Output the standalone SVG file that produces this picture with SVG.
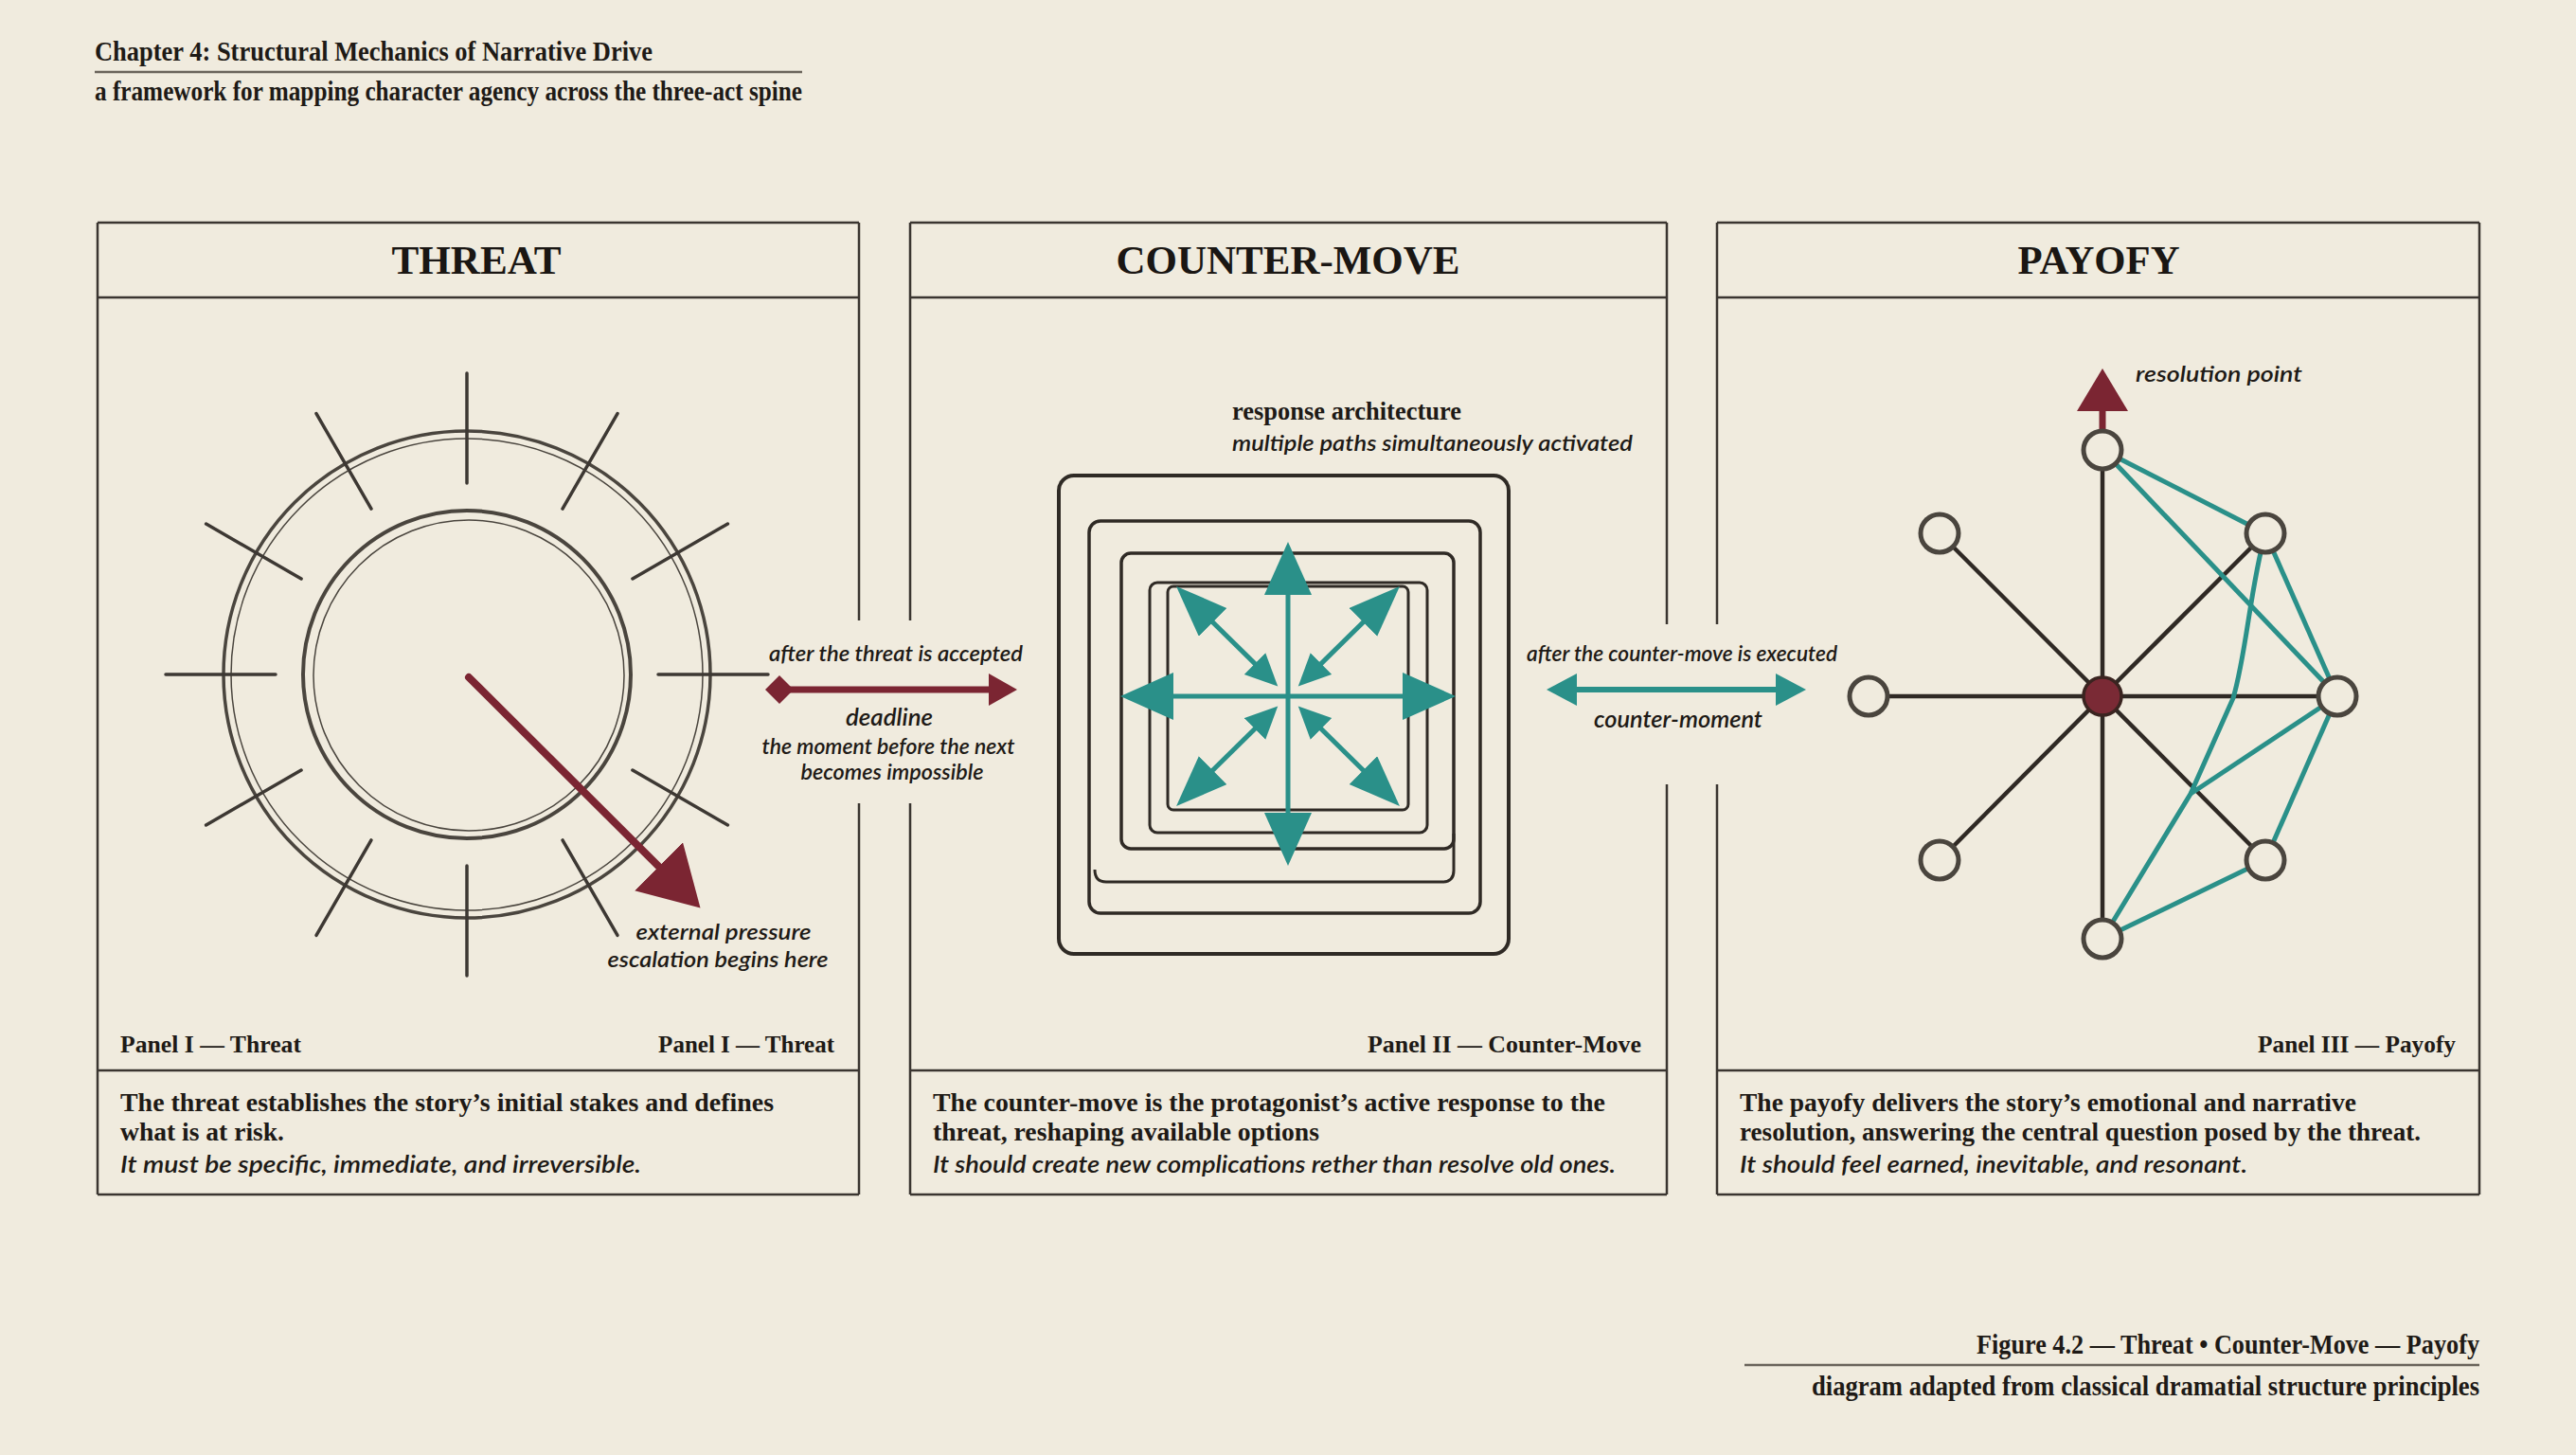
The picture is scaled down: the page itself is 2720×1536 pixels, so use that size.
<svg xmlns="http://www.w3.org/2000/svg" width="2720" height="1536" viewBox="0 0 2720 1536">
<defs>
<style>
.hdr{font-family:"Liberation Serif","DejaVu Serif",serif;font-size:30px;font-weight:bold;fill:#1e1a16}
.ptitle{font-family:"Liberation Serif","DejaVu Serif",serif;font-size:42px;font-weight:bold;fill:#1a1613;text-anchor:middle}
.plabel{font-family:"Liberation Serif","DejaVu Serif",serif;font-size:25px;font-weight:bold;fill:#1e1a16}
.body{font-family:"Liberation Serif","DejaVu Serif",serif;font-size:27px;font-weight:bold;fill:#1e1a16}
.bodyi{font-family:Lato,"Open Sans",sans-serif;font-size:25px;font-style:italic;font-weight:600;fill:#1e1a16}
.lbl{font-family:Lato,"Open Sans",sans-serif;font-size:22px;font-style:italic;font-weight:600;fill:#1e1a16}
.lblc{font-family:Lato,"Open Sans",sans-serif;font-size:22px;font-style:italic;font-weight:600;fill:#1e1a16;text-anchor:middle}
.lblb{font-family:Lato,"Open Sans",sans-serif;font-size:25px;font-style:italic;font-weight:600;fill:#1e1a16;text-anchor:middle}
.frame{fill:none;stroke:#3a3530;stroke-width:2.5}
.ring{fill:none;stroke:#4a453e}
.tick{stroke:#3d3833;stroke-width:3.5;stroke-linecap:round}
.box{fill:none;stroke:#2f2a25}
.teal{stroke:#2a9089;stroke-width:5;fill:none}
.spoke{stroke:#2f2924;stroke-width:4.5}
.node{fill:#f0ebde;stroke:#4a453e;stroke-width:5}
</style>
<marker id="tealBig" markerUnits="userSpaceOnUse" markerWidth="58" markerHeight="52" refX="46" refY="25" orient="auto-start-reverse">
<path d="M0,0 L56,25 L0,50 Z" fill="#2a9089"/>
</marker>
<marker id="tealDiag" markerUnits="userSpaceOnUse" markerWidth="56" markerHeight="44" refX="44" refY="21" orient="auto-start-reverse">
<path d="M0,0 L54,21 L0,42 Z" fill="#2a9089"/>
</marker>
<marker id="tealInner" markerUnits="userSpaceOnUse" markerWidth="36" markerHeight="34" refX="24" refY="16" orient="auto-start-reverse">
<path d="M0,0 L34,16 L0,32 Z" fill="#2a9089"/>
</marker>
<marker id="tealMid" markerUnits="userSpaceOnUse" markerWidth="34" markerHeight="36" refX="24" refY="17" orient="auto-start-reverse">
<path d="M0,0 L32,17 L0,34 Z" fill="#2a9089"/>
</marker>
<marker id="redHead" markerUnits="userSpaceOnUse" markerWidth="64" markerHeight="74" refX="50" refY="36" orient="auto">
<path d="M0,0 L62,36 L0,72 Z" fill="#7b2532"/>
</marker>
<marker id="redMid" markerUnits="userSpaceOnUse" markerWidth="32" markerHeight="36" refX="22" refY="17" orient="auto">
<path d="M0,0 L30,17 L0,34 Z" fill="#7b2532"/>
</marker>
</defs>

<rect x="0" y="0" width="2720" height="1536" fill="#f0ebde"/>

<g id="header">
<text class="hdr" x="100" y="64" textLength="589" lengthAdjust="spacingAndGlyphs">Chapter 4: Structural Mechanics of Narrative Drive</text>
<line x1="100" y1="76" x2="847" y2="76" stroke="#6a645b" stroke-width="2.5"/>
<text class="hdr" x="100" y="106" font-size="28" textLength="747" lengthAdjust="spacingAndGlyphs">a framework for mapping character agency across the three-act spine</text>
</g>

<g id="panel-threat">
<path class="frame" d="M103,235 H907 M103,314 H907 M103,1130 H907 M103,1261 H907 M103,235 V1261 M907,235 V655 M907,848 V1261"/>
<text class="ptitle" x="503" y="289" textLength="179" lengthAdjust="spacingAndGlyphs">THREAT</text>
<circle class="ring" cx="493" cy="712" r="257" stroke-width="3.5"/>
<circle class="ring" cx="493" cy="712" r="249" stroke-width="1.5"/>
<circle class="ring" cx="493" cy="712" r="173" stroke-width="4"/>
<circle class="ring" cx="495" cy="713" r="164" stroke-width="1.5"/>
<g class="tick">
<line x1="695" y1="712" x2="811" y2="712"/>
<line x1="695" y1="712" x2="811" y2="712" transform="rotate(30 493 712)"/>
<line x1="695" y1="712" x2="811" y2="712" transform="rotate(60 493 712)"/>
<line x1="695" y1="712" x2="811" y2="712" transform="rotate(90 493 712)"/>
<line x1="695" y1="712" x2="811" y2="712" transform="rotate(120 493 712)"/>
<line x1="695" y1="712" x2="811" y2="712" transform="rotate(150 493 712)"/>
<line x1="695" y1="712" x2="811" y2="712" transform="rotate(180 493 712)"/>
<line x1="695" y1="712" x2="811" y2="712" transform="rotate(210 493 712)"/>
<line x1="695" y1="712" x2="811" y2="712" transform="rotate(240 493 712)"/>
<line x1="695" y1="712" x2="811" y2="712" transform="rotate(270 493 712)"/>
<line x1="695" y1="712" x2="811" y2="712" transform="rotate(300 493 712)"/>
<line x1="695" y1="712" x2="811" y2="712" transform="rotate(330 493 712)"/>
</g>
<line x1="495" y1="715" x2="731" y2="950" stroke="#7b2532" stroke-width="8" stroke-linecap="round" marker-end="url(#redHead)"/>
<text class="lblc" x="764" y="992" textLength="185" lengthAdjust="spacingAndGlyphs">external pressure</text>
<text class="lblc" x="758" y="1021" textLength="233" lengthAdjust="spacingAndGlyphs">escalation begins here</text>
<text class="plabel" x="127" y="1111" textLength="191" lengthAdjust="spacingAndGlyphs">Panel I — Threat</text>
<text class="plabel" x="881" y="1111" text-anchor="end">Panel I — Threat</text>
<text class="body" x="127" y="1173" textLength="690" lengthAdjust="spacingAndGlyphs">The threat establishes the story’s initial stakes and defines</text>
<text class="body" x="127" y="1204" textLength="173" lengthAdjust="spacingAndGlyphs">what is at risk.</text>
<text class="bodyi" x="127" y="1238" textLength="550" lengthAdjust="spacingAndGlyphs">It must be specific, immediate, and irreversible.</text>
</g>

<g id="panel-counter-move">
<path class="frame" d="M961,235 H1760 M961,314 H1760 M961,1130 H1760 M961,1261 H1760 M961,235 V655 M961,848 V1261 M1760,235 V659 M1760,828 V1261"/>
<text class="ptitle" x="1360" y="289" textLength="363" lengthAdjust="spacingAndGlyphs">COUNTER-MOVE</text>
<text class="body" x="1301" y="443" font-size="26" textLength="242" lengthAdjust="spacingAndGlyphs">response architecture</text>
<text class="lbl" x="1301" y="476" font-size="23" textLength="423" lengthAdjust="spacingAndGlyphs">multiple paths simultaneously activated</text>
<rect class="box" x="1118" y="502" width="475" height="505" rx="16" stroke-width="4"/>
<rect class="box" x="1150" y="550" width="413" height="414" rx="12" stroke-width="3.5"/>
<path class="box" stroke-width="3" d="M1156,918 Q1156,931 1168,931 H1523 Q1535,931 1535,919 V880"/>
<rect class="box" x="1184" y="584" width="351" height="312" rx="10" stroke-width="3.5"/>
<rect class="box" x="1214" y="615" width="293" height="264" rx="8" stroke-width="3"/>
<rect class="box" x="1233" y="619" width="254" height="236" rx="6" stroke-width="3"/>
<g id="burst">
<line class="teal" x1="1360" y1="735" x2="1360" y2="582" marker-end="url(#tealBig)"/>
<line class="teal" x1="1360" y1="735" x2="1360" y2="904" marker-end="url(#tealBig)"/>
<line class="teal" x1="1360" y1="735" x2="1193" y2="735" marker-end="url(#tealBig)"/>
<line class="teal" x1="1360" y1="735" x2="1527" y2="735" marker-end="url(#tealBig)"/>
<line class="teal" x1="1342.1" y1="717.4" x2="1249.2" y2="626" marker-start="url(#tealInner)" marker-end="url(#tealDiag)"/>
<line class="teal" x1="1377.9" y1="717.4" x2="1470.8" y2="626" marker-start="url(#tealInner)" marker-end="url(#tealDiag)"/>
<line class="teal" x1="1342.1" y1="752.6" x2="1249.2" y2="844" marker-start="url(#tealInner)" marker-end="url(#tealDiag)"/>
<line class="teal" x1="1377.9" y1="752.6" x2="1470.8" y2="844" marker-start="url(#tealInner)" marker-end="url(#tealDiag)"/>
</g>
<text class="plabel" x="1733" y="1111" text-anchor="end" textLength="289" lengthAdjust="spacingAndGlyphs">Panel II — Counter-Move</text>
<text class="body" x="985" y="1173" textLength="710" lengthAdjust="spacingAndGlyphs">The counter-move is the protagonist’s active response to the</text>
<text class="body" x="985" y="1204" textLength="408" lengthAdjust="spacingAndGlyphs">threat, reshaping available options</text>
<text class="bodyi" x="985" y="1238" textLength="721" lengthAdjust="spacingAndGlyphs">It should create new complications rether than resolve old ones.</text>
</g>

<g id="panel-payofy">
<path class="frame" d="M1813,235 H2618 M1813,314 H2618 M1813,1130 H2618 M1813,1261 H2618 M2618,235 V1261 M1813,235 V659 M1813,828 V1261"/>
<text class="ptitle" x="2216" y="289" textLength="171" lengthAdjust="spacingAndGlyphs">PAYOFY</text>
<g class="spoke">
<line x1="2220" y1="735" x2="2220" y2="475"/>
<line x1="2220" y1="735" x2="2048" y2="563"/>
<line x1="2220" y1="735" x2="2392" y2="563"/>
<line x1="2220" y1="735" x2="1973" y2="735"/>
<line x1="2220" y1="735" x2="2468" y2="735"/>
<line x1="2220" y1="735" x2="2048" y2="908"/>
<line x1="2220" y1="735" x2="2392" y2="908"/>
<line x1="2220" y1="735" x2="2220" y2="991"/>
</g>
<g id="teal-links">
<line class="teal" x1="2220" y1="475" x2="2392" y2="563"/>
<line class="teal" x1="2220" y1="475" x2="2468" y2="735"/>
<line class="teal" x1="2392" y1="563" x2="2468" y2="735"/>
<path class="teal" d="M2392,563 C2376,620 2372,690 2358,737 L2313,838 L2220,991"/>
<line class="teal" x1="2468" y1="735" x2="2313" y2="838"/>
<line class="teal" x1="2468" y1="735" x2="2392" y2="908"/>
<line class="teal" x1="2392" y1="908" x2="2220" y2="991"/>
</g>
<line x1="2220" y1="455" x2="2220" y2="430" stroke="#7b2532" stroke-width="7"/>
<polygon points="2193,434 2247,434 2220,389" fill="#7b2532"/>
<g id="nodes">
<circle class="node" cx="2220" cy="475" r="20"/>
<circle class="node" cx="2048" cy="563" r="20"/>
<circle class="node" cx="2392" cy="563" r="20"/>
<circle class="node" cx="1973" cy="735" r="20"/>
<circle class="node" cx="2468" cy="735" r="20"/>
<circle class="node" cx="2048" cy="908" r="20"/>
<circle class="node" cx="2392" cy="908" r="20"/>
<circle class="node" cx="2220" cy="991" r="20"/>
<circle cx="2220" cy="735" r="20" fill="#7a2a35" stroke="#3a2420" stroke-width="3.5"/>
</g>
<text class="lbl" x="2255" y="403" font-size="23" textLength="176" lengthAdjust="spacingAndGlyphs">resolution point</text>
<text class="plabel" x="2593" y="1111" text-anchor="end" textLength="209" lengthAdjust="spacingAndGlyphs">Panel III — Payofy</text>
<text class="body" x="1837" y="1173" textLength="651" lengthAdjust="spacingAndGlyphs">The payofy delivers the story’s emotional and narrative</text>
<text class="body" x="1837" y="1204" textLength="719" lengthAdjust="spacingAndGlyphs">resolution, answering the central question posed by the threat.</text>
<text class="bodyi" x="1837" y="1238" textLength="536" lengthAdjust="spacingAndGlyphs">It should feel earned, inevitable, and resonant.</text>
</g>

<g id="connectors">
<g id="deadline-link">
<polygon points="808,728 823,713 838,728 823,743" fill="#7b2532"/>
<line x1="830" y1="728" x2="1066" y2="728" stroke="#7b2532" stroke-width="7" marker-end="url(#redMid)"/>
<text class="lblc" x="946" y="698" textLength="268" lengthAdjust="spacingAndGlyphs">after the threat is accepted</text>
<text class="lblb" x="939" y="766" textLength="92" lengthAdjust="spacingAndGlyphs">deadline</text>
<text class="lblc" x="938" y="796" textLength="267" lengthAdjust="spacingAndGlyphs">the moment before the next</text>
<text class="lblc" x="942" y="823" textLength="193" lengthAdjust="spacingAndGlyphs">becomes impossible</text>
</g>
<g id="counter-link">
<line x1="1641" y1="728" x2="1899" y2="728" stroke="#2a9089" stroke-width="6" marker-start="url(#tealMid)" marker-end="url(#tealMid)"/>
<text class="lblc" x="1776" y="698" textLength="328" lengthAdjust="spacingAndGlyphs">after the counter-move is executed</text>
<text class="lblb" x="1772" y="768" textLength="178" lengthAdjust="spacingAndGlyphs">counter-moment</text>
</g>
</g>

<g id="footer">
<text class="hdr" x="2618" y="1429" text-anchor="end" font-size="29" textLength="531" lengthAdjust="spacingAndGlyphs">Figure 4.2 — Threat • Counter-Move — Payofy</text>
<line x1="1842" y1="1441" x2="2618" y2="1441" stroke="#6a645b" stroke-width="2.5"/>
<text class="hdr" x="2618" y="1473" text-anchor="end" font-size="29" textLength="705" lengthAdjust="spacingAndGlyphs">diagram adapted from classical dramatial structure principles</text>
</g>
</svg>
